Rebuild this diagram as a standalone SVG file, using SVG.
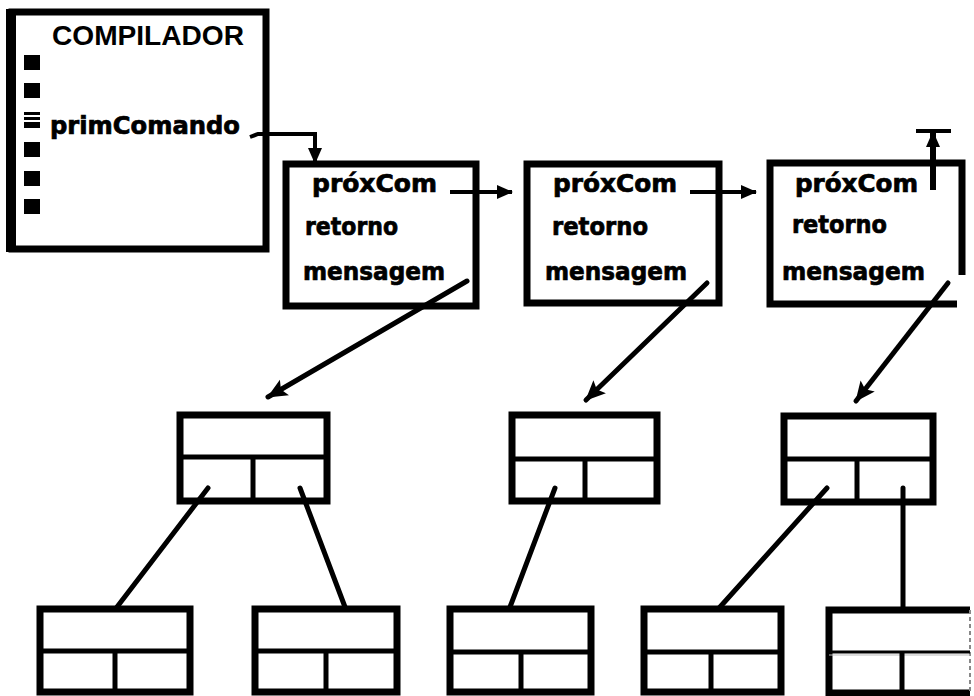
<svg xmlns="http://www.w3.org/2000/svg" width="974" height="696" viewBox="0 0 974 696">
  <style>
    .box { fill: none; stroke: #000; stroke-width: 7; }
    .cell { fill: none; stroke: #000; stroke-width: 5; }
    .lbl { font-family: "DejaVu Sans", "Liberation Sans", sans-serif; font-weight: bold; font-size: 24px; fill: #000; stroke: #000; stroke-width: 0.7; }
    .title { font-family: "Liberation Sans", Arial, sans-serif; font-weight: bold; font-size: 27px; fill: #000; }
    .ptr { fill: none; stroke: #000; stroke-width: 5; stroke-linecap: round; }
    .link { fill: none; stroke: #000; stroke-width: 4; }
  </style>
  <defs>
    <marker id="head" markerUnits="userSpaceOnUse" markerWidth="18" markerHeight="16" refX="15" refY="8" orient="auto">
      <path d="M0,1 L16,8 L0,15 Z" fill="#000"/>
    </marker>
    <marker id="bighead" markerUnits="userSpaceOnUse" markerWidth="22" markerHeight="20" refX="19" refY="10" orient="auto">
      <path d="M0,1 L20,10 L0,19 L4,10 Z" fill="#000"/>
    </marker>
  </defs>
  <rect width="974" height="696" fill="#fff"/>

  <!-- compiler object -->
  <g id="compilador">
    <rect class="box" x="12" y="12" width="254" height="237"/>
    <line x1="11" y1="9" x2="11" y2="252" stroke="#000" stroke-width="10"/>
    <text class="title" x="52" y="45" textLength="192" lengthAdjust="spacingAndGlyphs">COMPILADOR</text>
    <rect x="24" y="55" width="16" height="15" fill="#000"/>
    <rect x="24" y="83" width="16" height="15" fill="#000"/>
    <rect x="24" y="112" width="16" height="3" fill="#000"/>
    <rect x="24" y="117" width="16" height="3" fill="#000"/>
    <rect x="24" y="122" width="16" height="6" fill="#000"/>
    <rect x="24" y="142" width="16" height="15" fill="#000"/>
    <rect x="24" y="171" width="16" height="15" fill="#000"/>
    <rect x="24" y="199" width="16" height="15" fill="#000"/>
    <text class="lbl" x="50" y="134" font-size="26" textLength="190" lengthAdjust="spacingAndGlyphs">primComando</text>
  </g>

  <!-- command objects -->
  <g id="cmd1">
    <rect class="box" x="286" y="164" width="190" height="142"/>
    <text class="lbl" x="312" y="192" textLength="125" lengthAdjust="spacingAndGlyphs">próxCom</text>
    <text class="lbl" x="305" y="235" textLength="93" lengthAdjust="spacingAndGlyphs">retorno</text>
    <text class="lbl" x="303" y="280" textLength="142" lengthAdjust="spacingAndGlyphs">mensagem</text>
  </g>
  <g id="cmd2">
    <rect class="box" x="527" y="164" width="192" height="139"/>
    <text class="lbl" x="553" y="192" textLength="124" lengthAdjust="spacingAndGlyphs">próxCom</text>
    <text class="lbl" x="552" y="235" textLength="96" lengthAdjust="spacingAndGlyphs">retorno</text>
    <text class="lbl" x="545" y="280" textLength="142" lengthAdjust="spacingAndGlyphs">mensagem</text>
  </g>
  <g id="cmd3">
    <path class="box" d="M957 304 H770 V163 H962 V275"/>
    <text class="lbl" x="795" y="192" textLength="123" lengthAdjust="spacingAndGlyphs">próxCom</text>
    <text class="lbl" x="792" y="233" textLength="95" lengthAdjust="spacingAndGlyphs">retorno</text>
    <text class="lbl" x="782" y="280" textLength="143" lengthAdjust="spacingAndGlyphs">mensagem</text>
  </g>

  <!-- message records -->
  <g id="msg1">
    <rect class="box" x="180" y="415" width="147" height="86"/>
    <line class="cell" x1="180" y1="457" x2="327" y2="457"/>
    <line class="cell" x1="253" y1="457" x2="253" y2="501"/>
  </g>
  <g id="msg2">
    <rect class="box" x="512" y="415" width="145" height="86"/>
    <line class="cell" x1="512" y1="459" x2="657" y2="459"/>
    <line class="cell" x1="585" y1="459" x2="585" y2="501"/>
  </g>
  <g id="msg3">
    <rect class="box" x="784" y="416" width="149" height="86"/>
    <line class="cell" x1="784" y1="459" x2="933" y2="459"/>
    <line class="cell" x1="857" y1="459" x2="857" y2="502"/>
  </g>

  <!-- argument records -->
  <g id="arg1">
    <rect class="box" x="40" y="609" width="150" height="83"/>
    <line class="cell" x1="40" y1="651" x2="190" y2="651"/>
    <line class="cell" x1="115" y1="651" x2="115" y2="692"/>
  </g>
  <g id="arg2">
    <rect class="box" x="255" y="609" width="142" height="83"/>
    <line class="cell" x1="255" y1="651" x2="397" y2="651"/>
    <line class="cell" x1="326" y1="651" x2="326" y2="692"/>
  </g>
  <g id="arg3">
    <rect class="box" x="450" y="609" width="141" height="83"/>
    <line class="cell" x1="450" y1="652" x2="591" y2="652"/>
    <line class="cell" x1="521" y1="652" x2="521" y2="692"/>
  </g>
  <g id="arg4">
    <rect class="box" x="644" y="609" width="137" height="83"/>
    <line class="cell" x1="644" y1="652" x2="781" y2="652"/>
    <line class="cell" x1="711" y1="652" x2="711" y2="692"/>
  </g>
  <g id="arg5">
    <path class="box" d="M970 610 H829 V693 H970"/>
    <line x1="970" y1="610" x2="970" y2="693" stroke="#888" stroke-width="2" stroke-dasharray="4 3"/>
    <line x1="829" y1="652" x2="970" y2="652" stroke="#000" stroke-width="3"/>
    <line x1="829" y1="655" x2="970" y2="655" stroke="#bbb" stroke-width="1"/>
    <line class="cell" x1="902" y1="652" x2="902" y2="693"/>
  </g>

  <!-- connectors -->
  <g id="connectors">
    <path class="link" d="M250 137 L258 134 H315 V163" marker-end="url(#head)"/>
    <path class="link" d="M450 192 L512 192" marker-end="url(#head)"/>
    <path class="link" d="M690 192 L756 192" marker-end="url(#head)"/>
    <path d="M933 190 V132" stroke="#000" stroke-width="6" fill="none" marker-end="url(#head)"/>
    <line x1="916" y1="131" x2="951" y2="131" stroke="#000" stroke-width="4"/>
    <path class="ptr" d="M467 281 L268 397" marker-end="url(#bighead)"/>
    <path class="ptr" d="M707 283 L586 400" marker-end="url(#bighead)"/>
    <path class="ptr" d="M948 283 L856 401" marker-end="url(#bighead)"/>
    <line class="ptr" x1="208" y1="488" x2="117" y2="607"/>
    <line class="ptr" x1="300" y1="488" x2="345" y2="607"/>
    <line class="ptr" x1="555" y1="488" x2="510" y2="607"/>
    <line class="ptr" x1="827" y1="488" x2="720" y2="607"/>
    <line class="ptr" x1="903" y1="488" x2="903" y2="607"/>
  </g>
</svg>
